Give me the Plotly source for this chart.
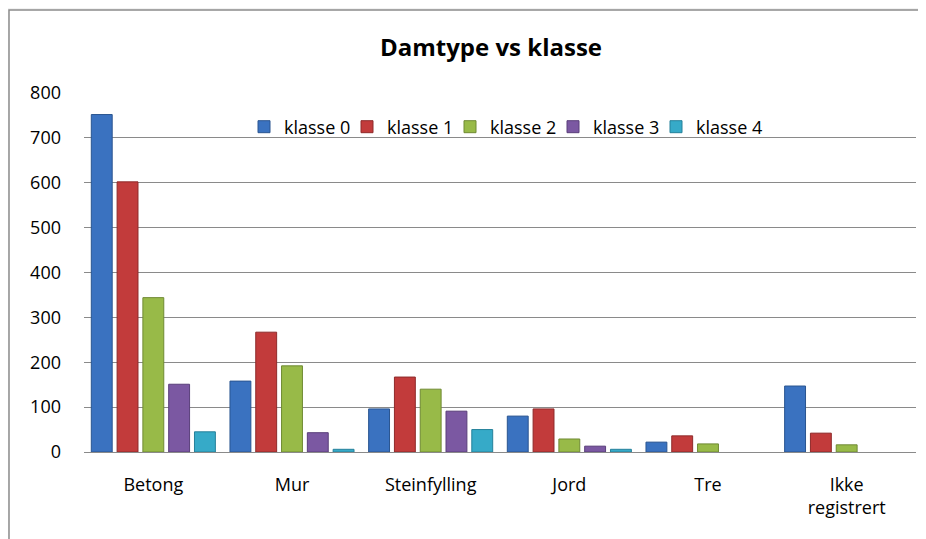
import plotly.graph_objects as go

# dam types on the x axis
kategorier = ["Betong", "Mur", "Steinfylling", "Jord", "Tre", "Ikke<br>registrert"]

klasse_0 = [752, 158, 96, 80, 22, 147]
klasse_1 = [602, 267, 167, 96, 36, 42]
klasse_2 = [344, 192, 140, 29, 18, 16]
klasse_3 = [151, 43, 91, 13, None, None]
klasse_4 = [45, 6, 50, 6, None, None]

serier = ["klasse 0", "klasse 1", "klasse 2", "klasse 3", "klasse 4"]
verdier = [klasse_0, klasse_1, klasse_2, klasse_3, klasse_4]
farger = ["#3A72C0", "#C23B3B", "#98BA48", "#7B58A2", "#36AAC8"]
kanter = ["#2A5590", "#8E2A2A", "#6F8A33", "#5A3F7A", "#24809A"]

fig = go.Figure()

for navn, v, f, k in zip(serier, verdier, farger, kanter):
    fig.add_trace(go.Bar(
        x=kategorier,
        y=v,
        name=navn,
        marker=dict(color=f, line=dict(color=k, width=1)),
    ))

# invisible legend entry, only so the last legend label is not clipped
fig.add_trace(go.Scatter(
    x=[kategorier[0]], y=[None], name=" ", mode="markers",
    marker=dict(color="rgba(0,0,0,0)", size=1),
    hoverinfo="skip",
))

# the page body has an 8px margin, so everything is placed 8px up/left
OFF = 8
# plot area in screen pixels: x 84..916, y 93..452
L, R, T, B = 84 - OFF, 10 + OFF, 93 - OFF, 87 + OFF
pw = 926 - L - R
ph = 539 - T - B

def px_x(p):
    return (p - OFF - L) / pw

def px_y(p):
    return (539 - B - (p - OFF)) / ph

# chart frame (Excel style border)
fig.add_shape(
    type="rect", xref="paper", yref="paper", layer="below",
    x0=px_x(9), x1=px_x(960), y0=px_y(580), y1=px_y(10),
    fillcolor="white", line=dict(color="#8c8c8c", width=1.5),
)

fig.update_layout(
    width=926, height=539,
    margin=dict(l=L, r=R, t=T, b=B),
    paper_bgcolor="#f2f2f2",
    plot_bgcolor="rgba(0,0,0,0)",
    font=dict(family="Open Sans", size=18, color="#000000"),
    title=dict(
        text="<b>Damtype vs klasse</b>",
        x=px_x(491), xanchor="center", xref="paper",
        y=1 - (48 - OFF) / 539, yanchor="middle",
        font=dict(size=24, family="Open Sans"),
    ),
    barmode="group",
    bargap=0.07,
    bargroupgap=0.19,
    showlegend=True,
    legend=dict(
        orientation="h",
        x=px_x(244), xanchor="left",
        y=px_y(127), yanchor="middle",
        bgcolor="rgba(0,0,0,0)",
        font=dict(size=18),
        itemwidth=30,
        entrywidth=58, entrywidthmode="pixels",
        tracegroupgap=0,
    ),
)

fig.update_yaxes(
    range=[0, 800],
    tickvals=[0, 100, 200, 300, 400, 500, 600, 700, 800],
    showgrid=True, gridcolor="#8a8a8a", gridwidth=1,
    zeroline=True, zerolinecolor="#8a8a8a", zerolinewidth=1,
    showline=False,
    ticks="", ticklabelstandoff=22,
)

fig.update_xaxes(
    showline=False, showgrid=False,
    ticks="", ticklabelstandoff=20,
)

fig.write_html("out.html")
